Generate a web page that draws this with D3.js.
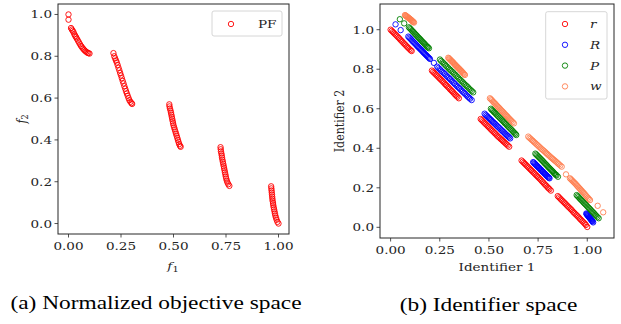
<!DOCTYPE html>
<html>
<head>
<meta charset="utf-8">
<script src="https://cdn.jsdelivr.net/npm/d3@7"></script>
<style>
  body { margin: 0; background: #fff; }
  text { font-family: "DejaVu Serif", serif; fill: #262626; }
</style>
</head>
<body>
<script>
// Pareto front (normalized objective space), [f1, f2]
let pfPoints = [
  [0,1.0],[0,0.975],[0.012,0.935],[0.016,0.928],[0.02,0.922],[0.024,0.915],[0.028,0.905],[0.032,0.898],
  [0.036,0.891],[0.04,0.884],[0.045,0.875],[0.05,0.866],[0.055,0.857],[0.06,0.849],[0.065,0.842],
  [0.07,0.836],[0.075,0.83],[0.08,0.825],[0.085,0.821],[0.09,0.817],[0.095,0.815],[0.1,0.813],
  [0.214,0.815],[0.218,0.8],[0.222,0.79],[0.226,0.78],[0.23,0.77],[0.234,0.758],[0.238,0.745],
  [0.242,0.733],[0.246,0.72],[0.25,0.708],[0.254,0.695],[0.258,0.682],[0.262,0.67],[0.266,0.657],
  [0.27,0.645],[0.274,0.633],[0.278,0.622],[0.282,0.611],[0.286,0.6],[0.29,0.59],[0.295,0.582],
  [0.3,0.576],[0.303,0.572],
  [0.48,0.57],[0.481,0.56],[0.483,0.55],[0.486,0.54],[0.488,0.53],[0.49,0.52],[0.492,0.51],[0.494,0.5],
  [0.496,0.49],[0.498,0.48],[0.5,0.47],[0.503,0.46],[0.506,0.45],[0.509,0.44],[0.512,0.43],[0.515,0.42],
  [0.518,0.41],[0.521,0.4],[0.524,0.39],[0.527,0.38],[0.531,0.372],[0.534,0.367],
  [0.724,0.365],[0.725,0.355],[0.726,0.345],[0.728,0.335],[0.73,0.325],[0.731,0.315],[0.733,0.305],
  [0.735,0.295],[0.737,0.285],[0.739,0.275],[0.741,0.265],[0.743,0.255],[0.745,0.245],[0.747,0.235],
  [0.749,0.225],[0.751,0.215],[0.754,0.205],[0.757,0.196],[0.761,0.188],[0.766,0.18],
  [0.965,0.178],[0.966,0.168],[0.967,0.158],[0.968,0.148],[0.969,0.138],[0.97,0.128],[0.971,0.118],
  [0.972,0.108],[0.974,0.098],[0.975,0.088],[0.977,0.078],[0.979,0.068],[0.981,0.058],[0.983,0.048],
  [0.985,0.038],[0.988,0.028],[0.991,0.018],[0.995,0.008],[1.0,0.0]
];

// Identifier space, [id1, id2]
let rPoints = [
  [0,1.0],[0.006,0.994],[0.012,0.988],[0.018,0.982],[0.024,0.976],[0.03,0.97],[0.036,0.964],[0.042,0.958],
  [0.048,0.951],[0.054,0.945],[0.06,0.939],[0.066,0.932],[0.072,0.926],[0.078,0.92],[0.084,0.914],
  [0.09,0.908],[0.096,0.902],[0.102,0.896],[0.107,0.892],
  [0.21,0.793],[0.216,0.787],[0.222,0.781],[0.228,0.775],[0.234,0.769],[0.24,0.763],[0.246,0.757],
  [0.252,0.751],[0.258,0.745],[0.264,0.739],[0.27,0.733],[0.276,0.726],[0.282,0.72],[0.288,0.714],
  [0.294,0.708],[0.3,0.701],[0.306,0.695],[0.312,0.689],[0.318,0.683],[0.324,0.676],[0.33,0.67],
  [0.335,0.665],[0.34,0.66],[0.347,0.653],
  [0.458,0.548],[0.464,0.542],[0.47,0.536],[0.476,0.53],[0.482,0.524],[0.488,0.518],[0.494,0.512],
  [0.5,0.506],[0.506,0.5],[0.512,0.494],[0.518,0.488],[0.524,0.482],[0.53,0.476],[0.536,0.47],
  [0.542,0.464],[0.548,0.458],[0.554,0.453],[0.56,0.447],[0.566,0.442],[0.572,0.436],[0.578,0.431],
  [0.584,0.425],[0.59,0.42],[0.596,0.414],[0.603,0.408],
  [0.666,0.338],[0.672,0.332],[0.678,0.326],[0.684,0.32],[0.69,0.314],[0.696,0.308],[0.702,0.302],
  [0.708,0.296],[0.714,0.29],[0.72,0.284],[0.726,0.278],[0.732,0.272],[0.738,0.266],[0.744,0.26],
  [0.75,0.254],[0.756,0.248],[0.762,0.242],[0.768,0.235],[0.774,0.229],[0.78,0.222],[0.786,0.216],
  [0.792,0.21],[0.798,0.203],[0.803,0.198],[0.808,0.193],[0.815,0.186],
  [0.85,0.158],[0.856,0.152],[0.862,0.146],[0.868,0.14],[0.874,0.134],[0.88,0.128],[0.886,0.122],
  [0.892,0.116],[0.898,0.11],[0.904,0.104],[0.91,0.098],[0.916,0.092],[0.922,0.086],[0.928,0.079],
  [0.934,0.073],[0.94,0.067],[0.946,0.061],[0.952,0.055],[0.958,0.049],[0.964,0.042],[0.97,0.036],
  [0.976,0.03],[0.982,0.024],[0.988,0.018],[0.993,0.012],[1.0,0.002]
];
let RPoints = [
  [0.025,1.027],[0.051,0.998],
  [0.09,0.965],[0.095,0.96],[0.1,0.955],[0.105,0.95],[0.11,0.944],[0.115,0.939],[0.12,0.934],
  [0.125,0.929],[0.13,0.924],[0.135,0.918],[0.14,0.913],[0.145,0.908],[0.15,0.903],[0.155,0.898],
  [0.16,0.893],[0.165,0.887],[0.17,0.882],[0.175,0.877],[0.18,0.872],[0.185,0.867],[0.19,0.862],
  [0.195,0.857],[0.2,0.852],[0.22,0.832],
  [0.237,0.813],[0.243,0.806],[0.25,0.8],[0.256,0.793],[0.263,0.787],[0.27,0.781],[0.276,0.775],
  [0.283,0.768],[0.289,0.762],[0.296,0.756],[0.302,0.75],[0.309,0.743],[0.315,0.737],[0.322,0.73],
  [0.328,0.724],[0.335,0.717],[0.341,0.711],[0.348,0.705],[0.354,0.699],[0.361,0.692],[0.367,0.686],
  [0.374,0.68],[0.38,0.674],[0.387,0.667],[0.393,0.661],[0.399,0.656],[0.404,0.651],[0.412,0.644],
  [0.478,0.575],[0.483,0.569],[0.489,0.564],[0.494,0.559],[0.5,0.553],[0.505,0.548],[0.511,0.543],
  [0.516,0.537],[0.522,0.532],[0.527,0.527],[0.533,0.522],[0.538,0.516],[0.544,0.511],[0.549,0.506],
  [0.555,0.501],[0.56,0.495],[0.566,0.49],[0.571,0.485],[0.577,0.48],[0.582,0.474],[0.588,0.469],
  [0.593,0.464],[0.598,0.46],[0.603,0.455],[0.608,0.45],
  [0.725,0.33],[0.728,0.327],[0.732,0.323],[0.735,0.32],[0.739,0.316],[0.742,0.313],[0.746,0.309],
  [0.749,0.306],[0.753,0.302],[0.756,0.299],[0.76,0.295],[0.763,0.292],[0.767,0.288],[0.77,0.285],
  [0.774,0.281],[0.777,0.278],[0.781,0.274],[0.784,0.271],[0.788,0.267],[0.791,0.264],[0.795,0.26],
  [0.798,0.257],[0.802,0.254],[0.805,0.251],[0.808,0.248],
  [0.995,0.07],[0.997,0.067],[0.999,0.065],[1.001,0.062],[1.003,0.06],[1.005,0.057],[1.007,0.055],
  [1.009,0.052],[1.011,0.05],[1.013,0.047],[1.015,0.045],[1.017,0.042],[1.019,0.04],[1.021,0.037],
  [1.023,0.035],[1.025,0.032],[1.027,0.03],[1.03,0.025]
];
let PPoints = [
  [0.047,1.053],[0.069,1.032],
  [0.093,1.012],[0.098,1.007],[0.103,1.002],[0.108,0.996],[0.113,0.991],[0.118,0.986],[0.123,0.98],
  [0.128,0.975],[0.133,0.97],[0.138,0.964],[0.143,0.959],[0.148,0.954],[0.153,0.949],[0.158,0.943],
  [0.163,0.938],[0.168,0.933],[0.173,0.928],[0.178,0.922],[0.183,0.917],[0.187,0.913],[0.19,0.91],[0.195,0.906],
  [0.251,0.849],[0.257,0.842],[0.264,0.836],[0.27,0.829],[0.277,0.823],[0.283,0.816],[0.29,0.81],
  [0.296,0.803],[0.303,0.797],[0.309,0.791],[0.316,0.785],[0.322,0.778],[0.329,0.772],[0.335,0.765],
  [0.342,0.759],[0.348,0.752],[0.355,0.746],[0.361,0.739],[0.368,0.733],[0.374,0.726],[0.381,0.72],
  [0.387,0.714],[0.394,0.708],[0.4,0.701],[0.407,0.695],[0.413,0.689],[0.42,0.683],
  [0.51,0.6],[0.515,0.594],[0.521,0.589],[0.526,0.583],[0.532,0.578],[0.537,0.572],[0.543,0.566],
  [0.548,0.561],[0.554,0.555],[0.559,0.55],[0.565,0.544],[0.57,0.539],[0.576,0.533],[0.581,0.527],
  [0.587,0.522],[0.592,0.516],[0.598,0.51],[0.603,0.505],[0.609,0.499],[0.614,0.494],[0.62,0.488],
  [0.625,0.482],[0.63,0.477],[0.635,0.472],[0.639,0.467],
  [0.736,0.373],[0.741,0.368],[0.746,0.363],[0.751,0.358],[0.756,0.353],[0.761,0.348],[0.766,0.343],
  [0.771,0.338],[0.776,0.333],[0.781,0.327],[0.786,0.322],[0.791,0.317],[0.796,0.312],[0.801,0.306],
  [0.806,0.301],[0.811,0.296],[0.816,0.291],[0.821,0.286],[0.826,0.281],[0.831,0.275],[0.836,0.27],
  [0.84,0.266],[0.844,0.263],[0.851,0.256],
  [0.946,0.163],[0.951,0.158],[0.956,0.153],[0.961,0.147],[0.966,0.142],[0.971,0.137],[0.976,0.132],
  [0.981,0.126],[0.986,0.121],[0.991,0.116],[0.996,0.111],[1.001,0.105],[1.006,0.1],[1.011,0.095],
  [1.016,0.09],[1.021,0.084],[1.026,0.079],[1.031,0.074],[1.036,0.069],[1.041,0.063],[1.046,0.058],
  [1.052,0.052],[1.058,0.046]
];
let wPoints = [
  [0.073,1.074],[0.076,1.072],[0.078,1.07],[0.081,1.068],[0.083,1.066],[0.086,1.064],[0.088,1.062],
  [0.091,1.06],[0.093,1.058],[0.096,1.056],[0.098,1.054],[0.101,1.052],[0.103,1.05],[0.106,1.048],
  [0.108,1.046],[0.111,1.043],[0.113,1.041],[0.116,1.039],[0.119,1.036],
  [0.293,0.858],[0.297,0.855],[0.3,0.851],[0.304,0.848],[0.307,0.844],[0.311,0.841],[0.314,0.837],
  [0.318,0.834],[0.321,0.83],[0.325,0.826],[0.328,0.822],[0.332,0.819],[0.335,0.815],[0.339,0.812],
  [0.342,0.808],[0.346,0.805],[0.349,0.801],[0.353,0.798],[0.356,0.794],[0.36,0.791],[0.363,0.787],
  [0.367,0.783],[0.37,0.779],[0.374,0.775],[0.378,0.771],
  [0.505,0.653],[0.51,0.648],[0.515,0.643],[0.52,0.637],[0.525,0.632],[0.53,0.627],[0.535,0.622],
  [0.54,0.616],[0.545,0.611],[0.55,0.606],[0.555,0.601],[0.56,0.595],[0.565,0.59],[0.57,0.585],
  [0.575,0.58],[0.58,0.574],[0.585,0.569],[0.59,0.564],[0.595,0.559],[0.6,0.553],[0.605,0.548],
  [0.61,0.543],[0.615,0.538],[0.621,0.532],[0.627,0.526],
  [0.7,0.459],[0.706,0.453],[0.712,0.448],[0.718,0.442],[0.724,0.437],[0.73,0.431],[0.736,0.426],
  [0.742,0.42],[0.748,0.415],[0.754,0.409],[0.76,0.404],[0.766,0.398],[0.772,0.393],[0.778,0.388],
  [0.784,0.383],[0.79,0.377],[0.796,0.372],[0.802,0.366],[0.808,0.361],[0.814,0.355],[0.82,0.35],
  [0.826,0.345],[0.832,0.34],[0.838,0.335],[0.844,0.33],[0.85,0.324],[0.856,0.319],[0.863,0.313],
  [0.87,0.307],[0.892,0.268],
  [0.912,0.248],[0.917,0.243],[0.922,0.238],[0.927,0.233],[0.932,0.228],[0.937,0.223],[0.942,0.218],
  [0.947,0.212],[0.952,0.207],[0.957,0.201],[0.962,0.196],[0.967,0.19],[0.972,0.185],[0.977,0.179],
  [0.982,0.174],[0.987,0.168],[0.992,0.162],[0.997,0.156],[1.003,0.15],[1.008,0.144],[1.014,0.138],
  [1.053,0.109],[1.081,0.076]
];

let xTicks = [0, 0.25, 0.5, 0.75, 1.0];
let yTicks = [0, 0.2, 0.4, 0.6, 0.8, 1.0];
let idSeries = [
  {name: "r", color: "#ff0000", points: rPoints},
  {name: "R", color: "#0000ff", points: RPoints},
  {name: "P", color: "#008000", points: PPoints},
  {name: "w", color: "#ff7f50", points: wPoints}
];

const SX = 1.23; // the picture's text is a bit wide

let svg = d3.select("body").append("svg")
    .attr("width", 621)
    .attr("height", 324);

// text helper, stretched horizontally
function label(g, x, y, str, anchor, size, rot) {
    let t = g.append("text")
        .attr("transform", `translate(${x},${y}) scale(${SX},1)` + (rot ? ` rotate(${rot})` : ""))
        .attr("text-anchor", anchor)
        .style("font-size", size + "px");
    if (str !== null) t.text(str);
    return t;
}

function drawAxes(xs, ys, fmtX, fmtY) {
    let g = svg.append("g");
    let [x0, x1] = xs.range();
    let [y1, y0] = ys.range();
    xTicks.forEach(d => {
        g.append("line").attr("x1", xs(d)).attr("x2", xs(d)).attr("y1", y1).attr("y2", y1 + 3.5)
            .attr("stroke", "#262626").attr("stroke-width", 0.8);
        label(g, xs(d), y1 + 15.5, fmtX(d), "middle", 11);
    });
    yTicks.forEach(d => {
        g.append("line").attr("x1", x0 - 3.5).attr("x2", x0).attr("y1", ys(d)).attr("y2", ys(d))
            .attr("stroke", "#262626").attr("stroke-width", 0.8);
        label(g, x0 - 6, ys(d) + 4, fmtY(d), "end", 11);
    });
    return g;
}

function drawFrame(xs, ys) {
    let [x0, x1] = xs.range();
    let [y1, y0] = ys.range();
    svg.append("rect")
        .attr("x", x0).attr("y", y0).attr("width", x1 - x0).attr("height", y1 - y0)
        .attr("fill", "none").attr("stroke", "#262626").attr("stroke-width", 1);
}

// ---- (a) normalized objective space
let xA = d3.scaleLinear().domain([-0.05, 1.05]).range([58, 289]);
let yA = d3.scaleLinear().domain([-0.05, 1.05]).range([234, 4]);

drawAxes(xA, yA, d3.format(".2f"), d3.format(".1f"));

svg.append("g").selectAll("circle")
    .data(pfPoints)
    .join("circle")
    .attr("cx", d => xA(d[0]))
    .attr("cy", d => yA(d[1]))
    .attr("r", 2.7)
    .attr("fill", "none")
    .attr("stroke", "#ff0000")
    .attr("stroke-width", 0.9);

drawFrame(xA, yA);

let f1 = label(svg, 173, 270, null, "middle", 11);
f1.append("tspan").style("font-style", "italic").text("f");
f1.append("tspan").attr("dy", 2).style("font-size", "8px").text("1");
let f2 = label(svg, 26, 119, null, "middle", 11, -90);
f2.append("tspan").style("font-style", "italic").text("f");
f2.append("tspan").attr("dy", 2).style("font-size", "8px").text("2");

// legend (a)
let legA = svg.append("g");
legA.append("rect").attr("x", 212).attr("y", 11).attr("width", 70).attr("height", 25).attr("rx", 2)
    .attr("fill", "#fff").attr("fill-opacity", 0.8).attr("stroke", "#cccccc").attr("stroke-width", 0.8);
legA.append("circle").attr("cx", 231).attr("cy", 24).attr("r", 2.7)
    .attr("fill", "none").attr("stroke", "#ff0000").attr("stroke-width", 0.9);
label(legA, 258, 28, "PF", "start", 11);

// ---- (b) identifier space
let xB = d3.scaleLinear().domain([-0.054, 1.136]).range([380, 614]);
let yB = d3.scaleLinear().domain([-0.054, 1.130]).range([238, 4]);

drawAxes(xB, yB, d3.format(".2f"), d3.format(".1f"));

idSeries.forEach(s => {
    svg.append("g").selectAll("circle")
        .data(s.points)
        .join("circle")
        .attr("cx", d => xB(d[0]))
        .attr("cy", d => yB(d[1]))
        .attr("r", 2.7)
        .attr("fill", "none")
        .attr("stroke", s.color)
        .attr("stroke-width", 0.9);
});

drawFrame(xB, yB);

label(svg, 497, 271, "Identifier 1", "middle", 11);
label(svg, 344, 121, "Identifier 2", "middle", 11, -90);

// legend (b)
let legB = svg.append("g");
legB.append("rect").attr("x", 545.7).attr("y", 11.7).attr("width", 61.3).attr("height", 87.3).attr("rx", 2)
    .attr("fill", "#fff").attr("fill-opacity", 0.8).attr("stroke", "#cccccc").attr("stroke-width", 0.8);
idSeries.forEach((s, i) => {
    let yy = 24 + i * 20.8;
    legB.append("circle").attr("cx", 565).attr("cy", yy).attr("r", 2.7)
        .attr("fill", "none").attr("stroke", s.color).attr("stroke-width", 0.9);
    label(legB, 590, yy + 4, s.name, "start", 11).style("font-style", "italic").style("font-weight", "300");
});

// captions
label(svg, 156, 309, "(a) Normalized objective space", "middle", 19)
    .style("font-family", "'Liberation Serif', 'Times New Roman', serif").style("fill", "#000");
label(svg, 488.5, 310.5, "(b) Identifier space", "middle", 19)
    .style("font-family", "'Liberation Serif', 'Times New Roman', serif").style("fill", "#000");
</script>
</body>
</html>
